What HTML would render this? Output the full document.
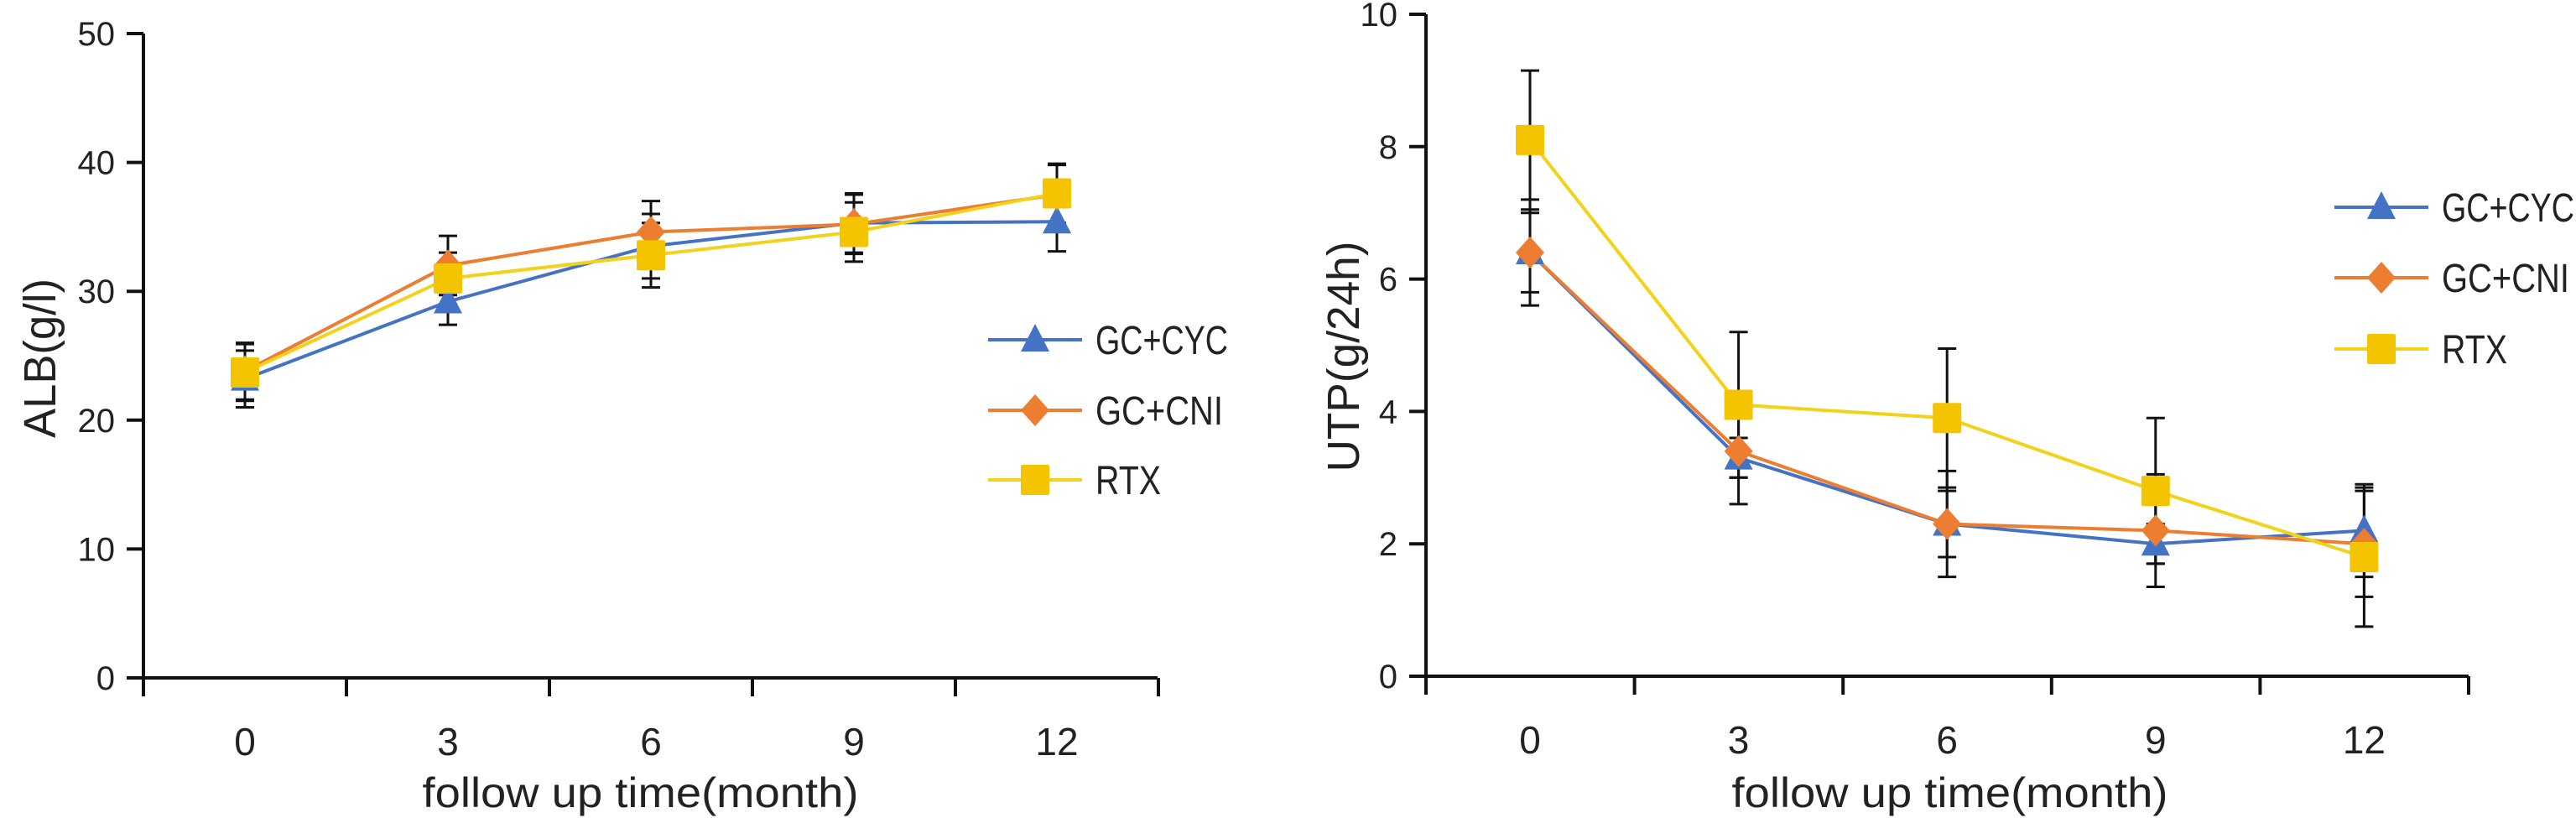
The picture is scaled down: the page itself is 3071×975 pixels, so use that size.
<!DOCTYPE html>
<html><head><meta charset="utf-8"><style>
html,body{margin:0;padding:0;background:#fff;width:3071px;height:975px;overflow:hidden}
svg{display:block}
text{font-family:"Liberation Sans",sans-serif;fill:#222}
</style></head><body>
<svg id="fig" width="3071" height="975" viewBox="0 0 3071 975" xmlns="http://www.w3.org/2000/svg"></svg>
<script>
const categories = ["0","3","6","9","12"];
const seriesNames = ["GC+CYC","GC+CNI","RTX"];
const albCYC = [23.2, 29.2, 33.5, 35.3, 35.4];
const albCNI = [23.8, 32.0, 34.6, 35.2, 37.5];
const albRTX = [23.7, 31.0, 32.8, 34.6, 37.6];
const albErrCYC = [2.2, 1.8, 2.5, 2.3, 2.3];
const albErrCNI = [2.2, 2.3, 2.4, 2.3, 2.3];
const albErrRTX = [2.2, 2.0, 2.5, 2.3, 2.3];
const albTicks = [0,10,20,30,40,50];
const utpCYC = [6.4, 3.3, 2.3, 2.0, 2.2];
const utpCNI = [6.4, 3.4, 2.3, 2.2, 2.0];
const utpRTX = [8.1, 4.1, 3.9, 2.8, 1.8];
const utpErrCYC = [0.6, 0.3, 0.5, 0.3, 0.7];
const utpErrCNI = [0.8, 0.8, 0.8, 0.85, 0.8];
const utpErrRTX = [1.05, 1.1, 1.05, 1.1, 1.05];
const utpTicks = [0,2,4,6,8,10];

const NS="http://www.w3.org/2000/svg";
const svg=document.getElementById('fig');
function mk(tag,attrs,parent){const e=document.createElementNS(NS,tag);for(const k in attrs)e.setAttribute(k,attrs[k]);(parent||svg).appendChild(e);return e;}
const colors=["#4472C4","#ED7D31","#F5C400"];
const lineColors=["#4472C4","#ED7D31","#F2D21A"];
const legLens=[158,152,78];

function drawChart(cfg){
  const g=mk('g',{});
  
  
  const yS=v=>cfg.y0-(v-cfg.ymin)/(cfg.ymax-cfg.ymin)*(cfg.y0-cfg.ytop);
  const xS=i=>cfg.cx0+i*cfg.step;
  const ya=mk('line',{x1:cfg.ax,y1:cfg.ytop,x2:cfg.ax,y2:cfg.y0+20,stroke:'#111','stroke-width':4},g);
  
  const xa=mk('line',{x1:cfg.ax,y1:cfg.y0,x2:cfg.axEnd,y2:cfg.y0,stroke:'#111','stroke-width':4},g);
  
  cfg.ticks.forEach(t=>{
    const y=yS(t);
    mk('line',{x1:cfg.ax-20,y1:y,x2:cfg.ax,y2:y,stroke:'#111','stroke-width':4},g);
    const tx=mk('text',{x:cfg.ax-34,y:y+14,'text-anchor':'end','font-size':40},g);
    tx.textContent=t;
    
  });
  for(let i=0;i<=categories.length;i++){
    const x=cfg.ax+i*cfg.step;
    mk('line',{x1:x,y1:cfg.y0,x2:x,y2:cfg.y0+22,stroke:'#111','stroke-width':4},g);
  }
  categories.forEach((c,i)=>{
    const tx=mk('text',{x:xS(i),y:cfg.y0+92,'text-anchor':'middle','font-size':46},g);
    tx.textContent=c;
    
  });
  const xt=mk('text',{x:cfg.ax+(cfg.axEnd-cfg.ax)/2+(cfg.name==='alb-chart'?-12:3),y:962,'text-anchor':'middle','font-size':50,textLength:520,lengthAdjust:'spacingAndGlyphs'},g);
  xt.textContent='follow up time(month)';
  
  const yt=mk('text',{x:0,y:0,'text-anchor':'middle','font-size':54,textLength:cfg.ytLen,lengthAdjust:'spacingAndGlyphs',transform:`translate(${cfg.ytX},${cfg.ytY}) rotate(-90)`},g);
  yt.textContent=cfg.ytitle;
  
  cfg.series.forEach((s,si)=>{
    s.vals.forEach((v,i)=>{
      const x=xS(i),e=s.err[i];
      const eb=mk('g',{},g);
      
      mk('line',{x1:x,y1:yS(v-e),x2:x,y2:yS(v+e),stroke:'#111','stroke-width':3},eb);
      mk('line',{x1:x-11,y1:yS(v-e),x2:x+11,y2:yS(v-e),stroke:'#111','stroke-width':3},eb);
      mk('line',{x1:x-11,y1:yS(v+e),x2:x+11,y2:yS(v+e),stroke:'#111','stroke-width':3},eb);
    });
  });
  cfg.series.forEach((s,si)=>{
    const pts=s.vals.map((v,i)=>xS(i)+','+yS(v)).join(' ');
    const pl=mk('polyline',{points:pts,fill:'none',stroke:lineColors[si],'stroke-width':4},g);
    
    
  });
  cfg.series.forEach((s,si)=>{
    s.vals.forEach((v,i)=>{
      const m=marker(si,xS(i),yS(v),g);
      
      
    });
  });
  seriesNames.forEach((n,si)=>{
    const y=cfg.legY[si];
    const lg=mk('g',{},g);
    
    mk('line',{x1:cfg.legX,y1:y,x2:cfg.legX+112,y2:y,stroke:lineColors[si],'stroke-width':4},lg);
    marker(si,cfg.legX+56,y,lg);
    const t=mk('text',{x:cfg.legX+128,y:y+17,'font-size':48,textLength:legLens[si],lengthAdjust:'spacingAndGlyphs'},lg);
    t.textContent=n;
  });
}
function marker(si,x,y,p){
  if(si===0) return mk('polygon',{points:`${x},${y-19} ${x+17},${y+14} ${x-17},${y+14}`,fill:colors[0]},p);
  if(si===1) return mk('polygon',{points:`${x},${y-19} ${x+17},${y} ${x},${y+19} ${x-17},${y}`,fill:colors[1]},p);
  return mk('rect',{x:x-17,y:y-18,width:34,height:36,fill:colors[2],rx:2},p);
}
drawChart({name:'alb-chart',ax:171,axEnd:1380,step:242,cx0:292,y0:808,ytop:40,ymin:0,ymax:50,ticks:albTicks,
  ytitle:'ALB(g/l)',ytX:66,ytY:427,ytLen:190,legX:1178,legY:[405,489,572],
  series:[{vals:albCYC,err:albErrCYC},{vals:albCNI,err:albErrCNI},{vals:albRTX,err:albErrRTX}]});
drawChart({name:'utp-chart',ax:1700,axEnd:2943,step:248.6,cx0:1824,y0:806,ytop:17,ymin:0,ymax:10,ticks:utpTicks,
  ytitle:'UTP(g/24h)',ytX:1620,ytY:425,ytLen:275,legX:2783,legY:[247,331,416],
  series:[{vals:utpCYC,err:utpErrCYC},{vals:utpCNI,err:utpErrCNI},{vals:utpRTX,err:utpErrRTX}]});
</script>
</body></html>
